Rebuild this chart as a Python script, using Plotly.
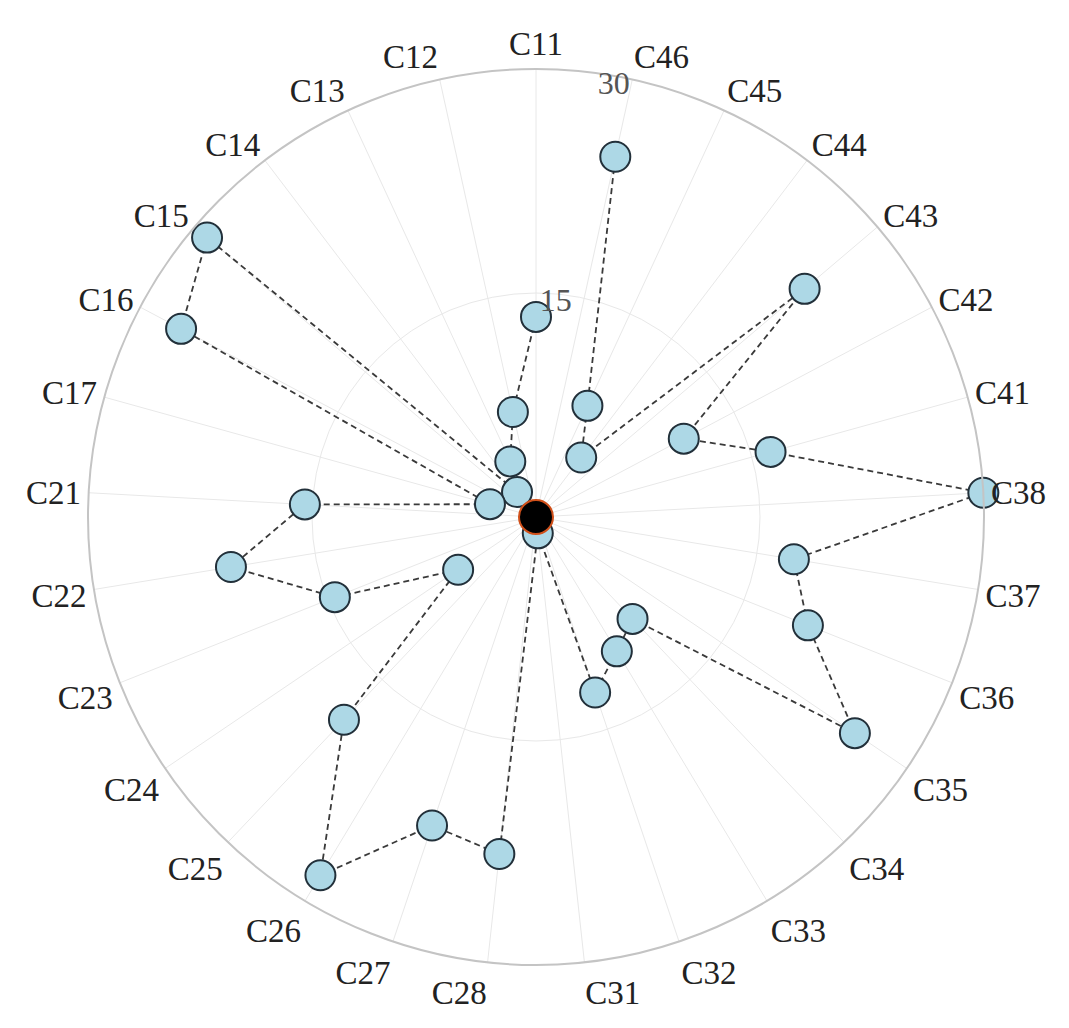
import plotly.graph_objects as go

categories = ["C11", "C12", "C13", "C14", "C15", "C16", "C17",
              "C21", "C22", "C23", "C24", "C25", "C26", "C27", "C28",
              "C31", "C32", "C33", "C34", "C35", "C36", "C37", "C38",
              "C41", "C42", "C43", "C44", "C45", "C46"]
values = [13.4, 7.2, 4.1, 2.1, 28.9, 26.9, 3.2,
          15.5, 20.7, 14.5, 6.3, 18.7, 28.0, 21.8, 22.7,
          1.1, 12.4, 10.5, 9.4, 25.8, 19.6, 17.5, 30.0,
          16.3, 11.2, 23.6, 5.0, 8.2, 24.7]
radial_ticks = [15, 30]
center_value = [0]

FONT = "Liberation Serif, Times New Roman, serif"

fig = go.Figure()
fig.add_trace(go.Scatterpolar(
    r=values, theta=categories, mode="lines+markers",
    line=dict(color="#3a3a3a", width=1.8, dash="6px,4px"),
    marker=dict(size=30, color="#ADD8E6", line=dict(color="#22303a", width=2)),
    showlegend=False, cliponaxis=False,
))
fig.add_trace(go.Scatterpolar(
    r=center_value, theta=[categories[0]], mode="markers",
    marker=dict(size=34, color="black", line=dict(color="#d0501a", width=2)),
    showlegend=False, cliponaxis=False,
))

fig.update_layout(
    width=1069, height=1028,
    paper_bgcolor="white", plot_bgcolor="white",
    margin=dict(l=80, r=93, t=60, b=70),
    font=dict(family=FONT, size=33, color="#222222"),
    polar=dict(
        bgcolor="white",
        angularaxis=dict(
            type="category", categoryorder="array", categoryarray=categories,
            rotation=90, direction="counterclockwise",
            showline=True, linecolor="#c4c4c4", linewidth=2,
            gridcolor="#e8e8e8", gridwidth=1.2, ticks="",
            tickfont=dict(family=FONT, size=33, color="#222222"),
        ),
        radialaxis=dict(
            range=[0, 30], tickvals=radial_ticks, ticktext=[str(v) for v in radial_ticks],
            angle=75, side="counterclockwise", showline=False, ticks="",
            tickangle=75,
            gridcolor="#e8e8e8", gridwidth=1.2,
            tickfont=dict(family=FONT, size=32, color="#555555"),
        ),
    ),
)

fig.write_html("out.html")
